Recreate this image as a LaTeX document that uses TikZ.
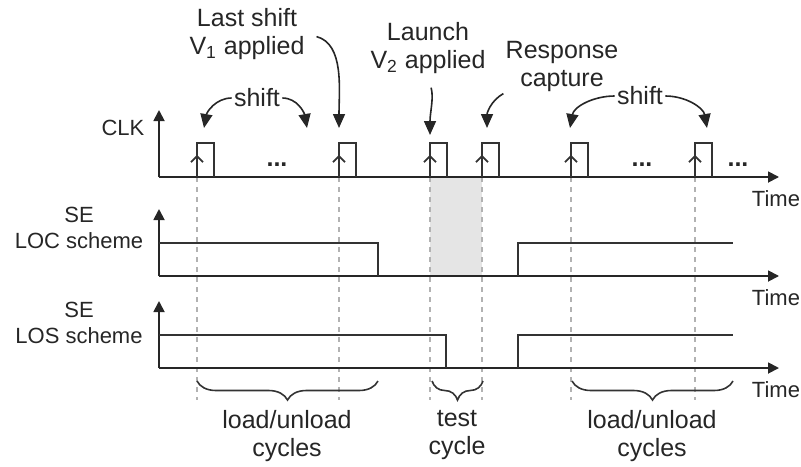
\documentclass[tikz,border=0pt]{standalone}
\usepackage{fontspec}
\setmainfont{Liberation Sans}
\usetikzlibrary{arrows.meta,calc,positioning,decorations.pathreplacing}

\tikzset{
  wave/.style={draw=black!80, line width=0.9pt},
  axis/.style={draw=black!85, line width=0.9pt, -{Triangle[length=5.5pt,width=5.5pt]}},
  guide/.style={draw=black!30, line width=0.8pt, dash pattern=on 2.5pt off 2.5pt},
  pointer/.style={draw=black!85, line width=0.8pt, -{Triangle[length=7pt,width=6pt]}},
  edgetip/.style={draw=black!80, line width=0.9pt, -{Straight Barb[length=3pt,width=6pt]}},
  cyclebrace/.style={draw=black!80, line width=0.8pt, decorate,
    decoration={brace, mirror, amplitude=9.5pt, aspect=0.5}},
  note/.style={font=\fontsize{12.5}{14}\selectfont, align=center, text=black!85, inner sep=1pt},
  axisname/.style={font=\fontsize{11}{13}\selectfont, align=center, text=black!85, inner sep=1pt},
}

\begin{document}
\begin{tikzpicture}[x=0.5pt, y=-0.5pt]
    \def \pulseWidth {17};
    \def \pulseTop {143};
    \def \guideEnd {400};
    \useasboundingbox (0,0) rectangle (801,466);

    \coordinate (clk_origin) at (159,177);
    \coordinate (loc_origin) at (159,276);
    \coordinate (los_origin) at (159,368);

    % test cycle window
    \fill[black!10] (430,177) rectangle (482,276);

    \foreach \t [count=\i] in {197,339,430,482,571,695} {
      \coordinate (rise_\i) at (\t,177);
      \coordinate (top_\i) at (\t,\pulseTop);
      \draw[guide] (rise_\i) -- (\t,\guideEnd);
    }

    \foreach \signal in {clk, loc, los} {
      \draw[axis] (\signal_origin) -- ++(0,-67);
      \draw[axis] (\signal_origin) -- ++(620,0) coordinate (\signal_end);
      \node[axisname] (time_\signal) at ($(\signal_end)+(-3,22)$) {Time};
    }

    \node[axisname] (clk_name) at (123,128) {CLK};
    \node[axisname] (loc_name) at (79,228) {SE\\LOC scheme};
    \node[axisname] (los_name) at (79,323) {SE\\LOS scheme};

    % clock pulses
    \foreach \i in {1,...,6} {
      \draw[edgetip] (rise_\i) -- ($(rise_\i)!0.65!(top_\i)$);
      \draw[wave] (rise_\i) -- (top_\i) -- ++(\pulseWidth,0) -- ++(0,34);
    }
    \node[note] (dots_1) at (277,165) {\textbf{...}};
    \node[note] (dots_2) at (642,165) {\textbf{...}};
    \node[note] (dots_3) at (738,165) {\textbf{...}};

    % scan enable
    \draw[wave] (159,243) -- (378,243) -- (378,276);
    \draw[wave] (518,276) -- (518,243) -- (733,243);
    \draw[wave] (159,335) -- (446,335) -- (446,368);
    \draw[wave] (518,368) -- (518,335) -- (733,335);

    % annotations
    \node[note] (last_shift) at (247,34) {Last shift\\V\textsubscript{1} applied};
    \node[note] (launch) at (428,48) {Launch\\V\textsubscript{2} applied};
    \node[note] (capture) at (562,66) {Response\\capture};
    \node[note] (shift_load) at (257,98) {shift};
    \node[note] (shift_unload) at (640,96) {shift};

    \coordinate (aim_first) at (204,128);
    \coordinate (aim_dots) at (307,128);
    \coordinate (aim_last) at (339,128);
    \coordinate (aim_launch) at (430,135);
    \coordinate (aim_capture) at (487,128);
    \coordinate (aim_next) at (570,128);
    \coordinate (aim_end) at (707,128);

    \draw[pointer] (shift_load.west) to[out=180,in=80] (aim_first);
    \draw[pointer] (shift_load.east) to[out=0,in=100] (aim_dots);
    \draw[pointer, shorten <=5pt] (last_shift.east) to[out=-15,in=90] (aim_last);
    \draw[pointer, shorten <=6pt] (launch.south) to[out=-75,in=90] (aim_launch);
    \draw[pointer] (capture.south west) to[out=210,in=90] (aim_capture);
    \draw[pointer] (shift_unload.west) to[out=180,in=80] (aim_next);
    \draw[pointer] (shift_unload.east) to[out=0,in=100] (aim_end);

    % cycles
    \draw[cyclebrace] (197,381) -- (378,381);
    \draw[cyclebrace] (432,381) -- (483,381);
    \draw[cyclebrace] (572,381) -- (733,381);
    \coordinate (brace_load) at (287,400);
    \coordinate (brace_test) at (457,400);
    \coordinate (brace_unload) at (652,400);
    \node[note, below=4pt of brace_load] (load_cycles) {load/unload\\cycles};
    \node[note, below=4pt of brace_test] (test_cycle) {test\\cycle};
    \node[note, below=4pt of brace_unload] (unload_cycles) {load/unload\\cycles};
\end{tikzpicture}
\end{document}
